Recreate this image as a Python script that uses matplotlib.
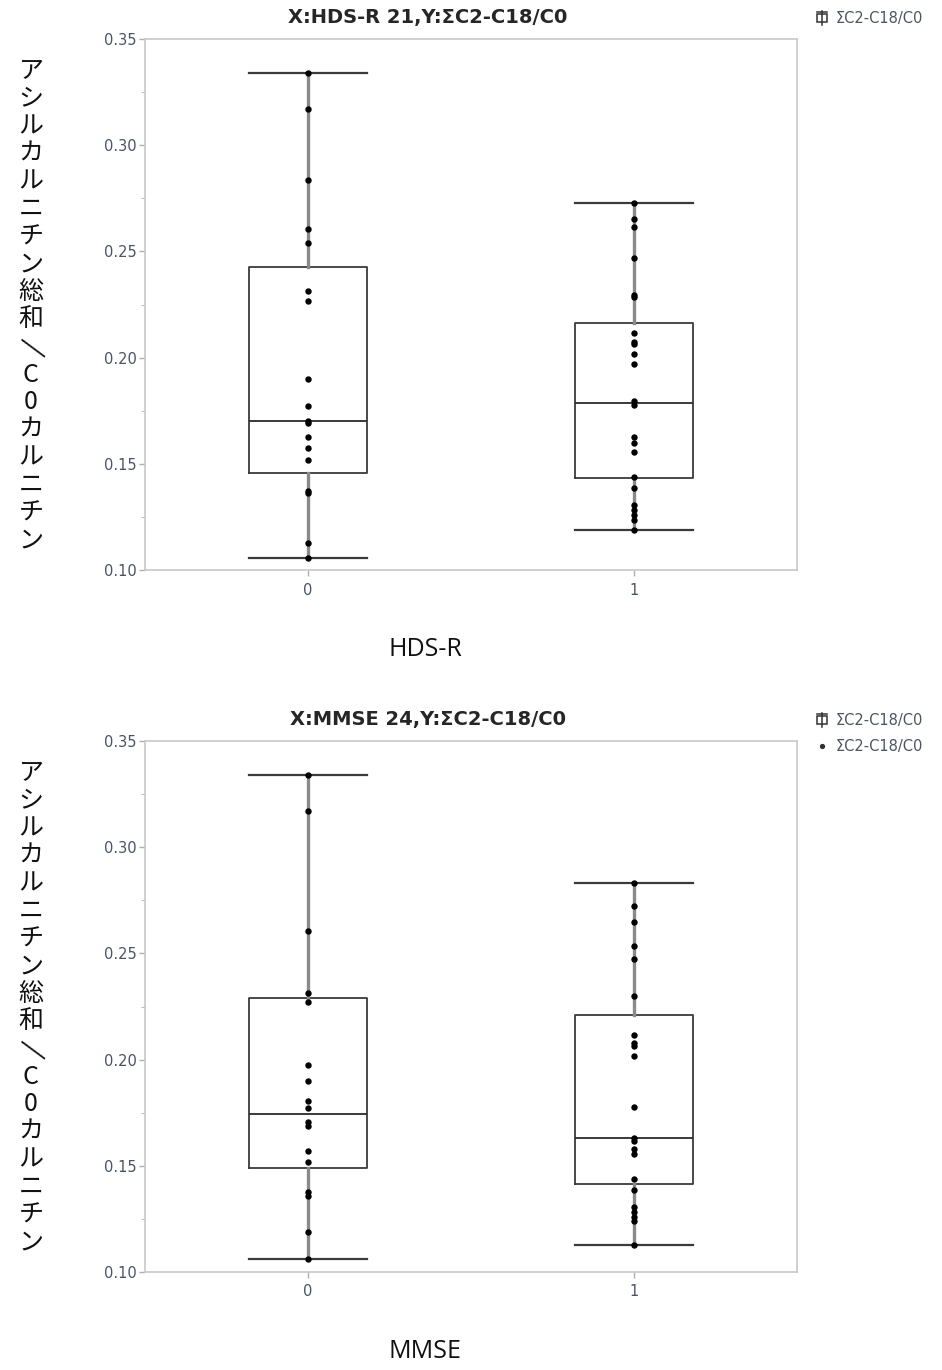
import matplotlib.pyplot as plt
from matplotlib.patches import Rectangle
from matplotlib.lines import Line2D

# values
groups = ["0", "1"]
y_ticks = [0.10, 0.15, 0.20, 0.25, 0.30, 0.35]

hds_titles = "X:HDS-R 21,Y:ΣC2-C18/C0"
hds_xlabel = "HDS-R"
hds_q1 = [0.1455, 0.1432]
hds_med = [0.1700, 0.1785]
hds_q3 = [0.2428, 0.2161]
hds_lo = [0.1055, 0.1188]
hds_hi = [0.3338, 0.2726]
hds_pts0 = [0.3340, 0.3170, 0.2836, 0.2604, 0.2538, 0.2315, 0.2268, 0.1898, 0.1772,
            0.1703, 0.1694, 0.1628, 0.1573, 0.1518, 0.1372, 0.1362, 0.1126, 0.1055]
hds_pts1 = [0.2726, 0.2651, 0.2613, 0.2470, 0.2295, 0.2284, 0.2117, 0.2075, 0.2064,
            0.2017, 0.1970, 0.1797, 0.1777, 0.1628, 0.1596, 0.1557, 0.1436, 0.1387,
            0.1306, 0.1282, 0.1259, 0.1235, 0.1188]

mmse_title = "X:MMSE 24,Y:ΣC2-C18/C0"
mmse_xlabel = "MMSE"
mmse_q1 = [0.1488, 0.1414]
mmse_med = [0.1746, 0.1633]
mmse_q3 = [0.2291, 0.2212]
mmse_lo = [0.1062, 0.1125]
mmse_hi = [0.3339, 0.2833]
mmse_pts0 = [0.3339, 0.3170, 0.2607, 0.2314, 0.2270, 0.1973, 0.1898, 0.1805, 0.1774,
             0.1704, 0.1688, 0.1570, 0.1516, 0.1375, 0.1360, 0.1190, 0.1062]
mmse_pts1 = [0.2833, 0.2724, 0.2650, 0.2536, 0.2474, 0.2301, 0.2118, 0.2076, 0.2063,
             0.2016, 0.1779, 0.1633, 0.1617, 0.1578, 0.1555, 0.1438, 0.1387, 0.1305,
             0.1281, 0.1258, 0.1242, 0.1125]

legend_label = "ΣC2-C18/C0"
ylabel = "アシルカルニチン総和/C0カルニチン"

plt.rcParams['font.family'] = ['DejaVu Sans']
JP = ['Noto Sans CJK JP', 'DejaVu Sans']
TICK_COL = '#475466'
W, H = 942, 1370

fig = plt.figure(figsize=(W / 100, H / 100), dpi=100)


def px(x, y):
    # pixel coords (top-left origin) -> figure fraction
    return x / W, 1 - y / H


def fline(xs, ys, **kw):
    pts = [px(x, y) for x, y in zip(xs, ys)]
    fig.add_artist(Line2D([p[0] for p in pts], [p[1] for p in pts],
                          transform=fig.transFigure, **kw))


def panel(top_px, q1, med, q3, lo, hi, pts, title, xlabel, n_legend):
    bottom_px = top_px + 531
    ax = fig.add_axes([145 / W, 1 - bottom_px / H, 652 / W, 531 / H])
    stats = []
    for i in range(len(groups)):
        stats.append(dict(q1=q1[i], med=med[i], q3=q3[i], whislo=lo[i],
                          whishi=hi[i], fliers=[]))
    ax.bxp(stats, positions=[0, 1], widths=0.36, showfliers=False,
           boxprops=dict(color='#3a3a3a', lw=1.3),
           medianprops=dict(color='#2a2a2a', lw=1.3),
           whiskerprops=dict(color='#8a8a8a', lw=2.4),
           capprops=dict(color='#3a3a3a', lw=1.6), capwidths=0.36)
    for i, p in enumerate(pts):
        ax.plot([i] * len(p), p, 'o', color='black', ms=4.6, mew=0, zorder=5)

    ax.set_xlim(-0.5, 1.5)
    ax.set_ylim(0.10, 0.35)
    ax.set_xticks([0, 1])
    ax.set_xticklabels(groups)
    ax.set_yticks(y_ticks)
    ax.set_yticklabels([f"{v:.2f}" for v in y_ticks])
    ax.set_yticks([0.125, 0.175, 0.225, 0.275, 0.325], minor=True)
    for s in ax.spines.values():
        s.set_color('#c8c8c8')
        s.set_linewidth(1.2)
    ax.tick_params(axis='both', colors='#b0b0b0', labelcolor=TICK_COL,
                   labelsize=10.5, length=4, width=1)
    ax.tick_params(axis='y', which='minor', colors='#b0b0b0', length=3)
    ax.tick_params(axis='x', pad=5)
    ax.tick_params(axis='y', pad=2)

    # title, x label
    tx, ty = px(428, top_px - 21)
    fig.text(tx, ty, title, ha='center', va='center', fontsize=14,
             fontweight='bold', color='#262626')
    lx, ly = px(425, bottom_px + 80)
    fig.text(lx, ly, xlabel, ha='center', va='center', fontsize=18,
             family=['Open Sans', 'DejaVu Sans'], color='#111111')

    # legend
    ix, iy = 822, top_px - 21
    fig.add_artist(Rectangle(px(ix - 5, iy + 4), 10 / W, 8 / H, fill=False,
                             ec='#333333', lw=1.1, transform=fig.transFigure))
    fline([ix, ix], [iy - 7, iy + 7], color='#333333', lw=1.1)
    fline([ix - 5, ix + 5], [iy - 6, iy - 6], color='#333333', lw=1.1)
    tx, ty = px(836, iy)
    fig.text(tx, ty, legend_label, ha='left', va='center', fontsize=10.5,
             color='#4a5560')
    if n_legend > 1:
        dx, dy = px(ix, iy + 26)
        fig.add_artist(Line2D([dx], [dy], marker='o', ms=2.8, color='#333333',
                              transform=fig.transFigure))
        tx, ty = px(836, iy + 26)
        fig.text(tx, ty, legend_label, ha='left', va='center', fontsize=10.5,
                 color='#4a5560')

    # vertical (stacked) y label
    start = top_px + 32
    step = 27.6
    for k, ch in enumerate(ylabel):
        cx, cy = px(31, start + k * step)
        if ch == '/':
            fig.text(cx, cy, ch, ha='center', va='center', fontsize=20,
                     family=JP, rotation=-110, rotation_mode='anchor',
                     color='#111111')
        else:
            fig.text(cx, cy, ch, ha='center', va='center', fontsize=18,
                     family=JP, color='#111111')
    return ax


panel(39, hds_q1, hds_med, hds_q3, hds_lo, hds_hi, [hds_pts0, hds_pts1],
      hds_titles, hds_xlabel, 1)
panel(741, mmse_q1, mmse_med, mmse_q3, mmse_lo, mmse_hi, [mmse_pts0, mmse_pts1],
      mmse_title, mmse_xlabel, 2)

fig.savefig("out.png", dpi=100)
